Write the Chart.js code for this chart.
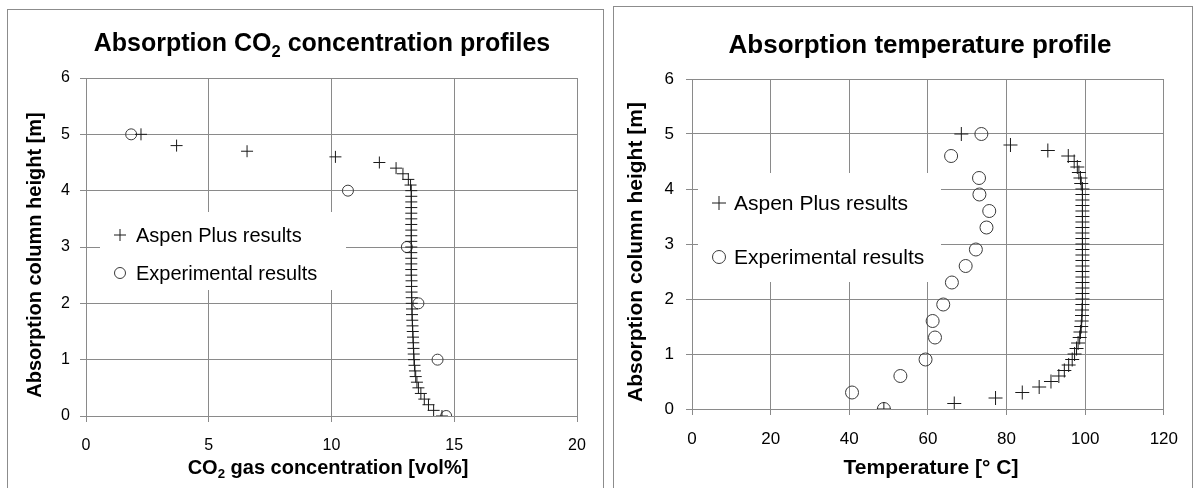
<!DOCTYPE html>
<html>
<head>
<meta charset="utf-8">
<script src="https://cdn.jsdelivr.net/npm/chart.js@4/dist/chart.umd.min.js"></script>
<style>
  html, body { margin: 0; padding: 0; background: #fff; }
  body { width: 1195px; height: 488px; overflow: hidden; position: relative; }
  .panel { position: absolute; border: 1px solid #8c8c8c; background: #fff; overflow: hidden; }
  #p1 { left: 7px; top: 9px; width: 595px; height: 500px; }
  #p2 { left: 613px; top: 6px; width: 578px; height: 500px; }
  canvas { display: block; }
</style>
</head>
<body>
<div class="panel" id="p1"><canvas id="c1" width="595" height="478"></canvas></div>
<div class="panel" id="p2"><canvas id="c2" width="578" height="481"></canvas></div>
<script>
// ---------------- DATA ----------------
const aspenHeights = [0, 0.1, 0.2, 0.3, 0.4, 0.5, 0.6, 0.7, 0.8, 0.9,
  1.0, 1.1, 1.2, 1.3, 1.4, 1.5, 1.6, 1.7, 1.8, 1.9,
  2.0, 2.1, 2.2, 2.3, 2.4, 2.5, 2.6, 2.7, 2.8, 2.9,
  3.0, 3.1, 3.2, 3.3, 3.4, 3.5, 3.6, 3.7, 3.8, 3.9,
  4.0, 4.1, 4.2, 4.3, 4.4, 4.5, 4.6, 4.7, 4.8, 5.0];

const aspenCO2 = [14.5, 14.16, 13.95, 13.78, 13.64, 13.54, 13.48, 13.43, 13.40, 13.38,
  13.36, 13.35, 13.34, 13.33, 13.32, 13.31, 13.30, 13.29, 13.28, 13.28,
  13.27, 13.27, 13.26, 13.26, 13.26, 13.25, 13.25, 13.25, 13.25, 13.25,
  13.25, 13.25, 13.25, 13.25, 13.25, 13.25, 13.25, 13.25, 13.25, 13.25,
  13.25, 13.22, 13.13, 12.91, 12.63, 11.95, 10.16, 6.56, 3.69, 2.24];

const aspenTemp = [48.8, 66.7, 77.2, 84.0, 88.3, 91.3, 93.3, 94.7, 95.8, 96.7,
  97.3, 97.8, 98.2, 98.6, 98.8, 99.0, 99.1, 99.2, 99.2, 99.3,
  99.3, 99.3, 99.3, 99.3, 99.3, 99.3, 99.3, 99.3, 99.3, 99.3,
  99.3, 99.3, 99.3, 99.3, 99.3, 99.3, 99.3, 99.3, 99.3, 99.3,
  99.3, 99.0, 98.8, 98.4, 98.0, 97.2, 95.7, 90.5, 81.0, 68.5];

const expCO2Heights = [5, 4, 3, 2, 1, 0];
const expCO2 = [1.84, 10.67, 13.07, 13.54, 14.32, 14.67];

const expTempHeights = [5.0, 4.6, 4.2, 3.9, 3.6, 3.3, 2.9, 2.6, 2.3, 1.9, 1.6, 1.3, 0.9, 0.6, 0.3, 0];
const expTemp = [73.6, 65.9, 73.0, 73.1, 75.6, 74.9, 72.2, 69.6, 66.1, 63.9, 61.2, 61.8, 59.4, 53.0, 40.7, 48.8];

const co2Ticks = [0, 5, 10, 15, 20];
const tempTicks = [0, 20, 40, 60, 80, 100, 120];
const heightTicks = [0, 1, 2, 3, 4, 5, 6];

const seriesNames = ['Aspen Plus results', 'Experimental results'];

// ---------------- HELPERS ----------------
const FONT = '"Liberation Sans", Arial, Helvetica, sans-serif';
const pts = (xs, ys) => xs.map((v, i) => ({ x: v, y: ys[i] }));

function drawRich(ctx, t) {
  const f = (sz, bold) => `${bold ? 'bold ' : ''}${sz}px ${FONT}`;
  ctx.save();
  ctx.translate(t.x, t.y);
  if (t.rotate) ctx.rotate(-Math.PI / 2);
  ctx.fillStyle = '#000';
  ctx.textBaseline = 'alphabetic';
  ctx.textAlign = 'left';
  let w = 0;
  const parts = t.parts.map(p => {
    const sz = p.sub ? t.size * 0.66 : t.size;
    ctx.font = f(sz, t.bold);
    const m = ctx.measureText(p.text).width;
    w += m;
    return { text: p.text, sub: p.sub, sz, m };
  });
  let x = -w / 2;
  for (const p of parts) {
    ctx.font = f(p.sz, t.bold);
    ctx.fillText(p.text, x, p.sub ? t.size * 0.22 : 0);
    x += p.m;
  }
  ctx.restore();
}

const textPlugin = {
  id: 'richTexts',
  afterDraw(chart, args, opts) {
    const ctx = chart.ctx;
    // legend box
    const lg = opts.legend;
    if (lg) {
      ctx.save();
      ctx.fillStyle = '#fff';
      ctx.fillRect(lg.box[0], lg.box[1], lg.box[2], lg.box[3]);
      chart.data.datasets.forEach((ds, i) => {
        const y = lg.rows[i];
        ctx.strokeStyle = ds.borderColor;
        ctx.fillStyle = 'rgba(0,0,0,0)';
        ctx.lineWidth = 1;
        Chart.helpers.drawPoint(ctx, { pointStyle: ds.pointStyle, radius: ds.pointRadius, borderWidth: 1, rotation: 0 }, lg.markerX, y);
        ctx.fillStyle = '#000';
        ctx.font = `${lg.size}px ${FONT}`;
        ctx.textBaseline = 'middle';
        ctx.textAlign = 'left';
        ctx.fillText(ds.label, lg.textX, y + 1);
      });
      ctx.restore();
    }
    for (const t of opts.texts) drawRich(ctx, t);
  }
};

function makeChart(canvasId, o) {
  const canvas = document.getElementById(canvasId);
  const H = canvas.height;
  return new Chart(canvas, {
    type: 'scatter',
    data: {
      datasets: [
        {
          label: seriesNames[0],
          data: pts(o.aspenX, o.aspenY),
          pointStyle: 'cross',
          pointRadius: o.crossR,
          pointBorderWidth: 1,
          borderColor: '#1a1a1a',
          backgroundColor: 'rgba(0,0,0,0)',
          showLine: false
        },
        {
          label: seriesNames[1],
          data: pts(o.expX, o.expY),
          pointStyle: 'circle',
          pointRadius: o.circleR,
          pointBorderWidth: 1,
          borderColor: '#3a3a3a',
          backgroundColor: 'rgba(0,0,0,0)',
          showLine: false
        }
      ]
    },
    options: {
      responsive: false,
      animation: false,
      events: [],
      parsing: false,
      layout: { padding: { top: o.area.top, right: canvas.width - o.area.right, left: 0, bottom: 0 } },
      scales: {
        x: {
          type: 'linear',
          min: o.xTicks[0],
          max: o.xTicks[o.xTicks.length - 1],
          afterBuildTicks: s => { s.ticks = o.xTicks.map(v => ({ value: v })); },
          afterFit: s => { s.height = H - o.area.bottom; },
          grid: { color: '#8a8a8a', lineWidth: 1, tickLength: 6, drawTicks: true },
          border: { color: '#8a8a8a', width: 1 },
          ticks: { color: '#000', font: { family: FONT, size: o.tickSize }, padding: o.xTickPad, maxRotation: 0 }
        },
        y: {
          type: 'linear',
          min: heightTicks[0],
          max: heightTicks[heightTicks.length - 1],
          afterBuildTicks: s => { s.ticks = heightTicks.map(v => ({ value: v })); },
          afterFit: s => { s.width = o.area.left; },
          grid: { color: '#8a8a8a', lineWidth: 1, tickLength: 6, drawTicks: true },
          border: { color: '#8a8a8a', width: 1 },
          ticks: { color: '#000', font: { family: FONT, size: o.tickSize }, padding: o.yTickPad }
        }
      },
      plugins: {
        legend: { display: false },
        title: { display: false },
        tooltip: { enabled: false },
        richTexts: { texts: o.texts, legend: o.legend }
      }
    },
    plugins: [textPlugin]
  });
}

// ---------------- CHART 1 ----------------
makeChart('c1', {
  aspenX: aspenCO2, aspenY: aspenHeights,
  expX: expCO2, expY: expCO2Heights,
  xTicks: co2Ticks,
  area: { left: 78, right: 569, top: 68, bottom: 406 },
  crossR: 6, circleR: 5.5,
  tickSize: 16, xTickPad: 14, yTickPad: 10,
  legend: { box: [92, 202, 246, 78], rows: [225, 263], markerX: 112, textX: 128, size: 20 },
  texts: [
    { x: 314, y: 41, size: 25, bold: true, parts: [{ text: 'Absorption CO' }, { text: '2', sub: true }, { text: ' concentration profiles' }] },
    { x: 320, y: 464, size: 20, bold: true, parts: [{ text: 'CO' }, { text: '2', sub: true }, { text: ' gas concentration [vol%]' }] },
    { x: 33, y: 245, size: 20, bold: true, rotate: true, parts: [{ text: 'Absorption column height [m]' }] }
  ]
});

// ---------------- CHART 2 ----------------
makeChart('c2', {
  aspenX: aspenTemp, aspenY: aspenHeights,
  expX: expTemp, expY: expTempHeights,
  xTicks: tempTicks,
  area: { left: 78, right: 559, top: 72, bottom: 402 },
  crossR: 7, circleR: 6.5,
  tickSize: 17, xTickPad: 14, yTickPad: 12,
  legend: { box: [84, 166, 243, 109], rows: [196, 250], markerX: 105, textX: 120, size: 21 },
  texts: [
    { x: 306, y: 46, size: 26, bold: true, parts: [{ text: 'Absorption temperature profile' }] },
    { x: 317, y: 467, size: 21, bold: true, parts: [{ text: 'Temperature [° C]' }] },
    { x: 28, y: 245, size: 21, bold: true, rotate: true, parts: [{ text: 'Absorption column height [m]' }] }
  ]
});
</script>
</body>
</html>
